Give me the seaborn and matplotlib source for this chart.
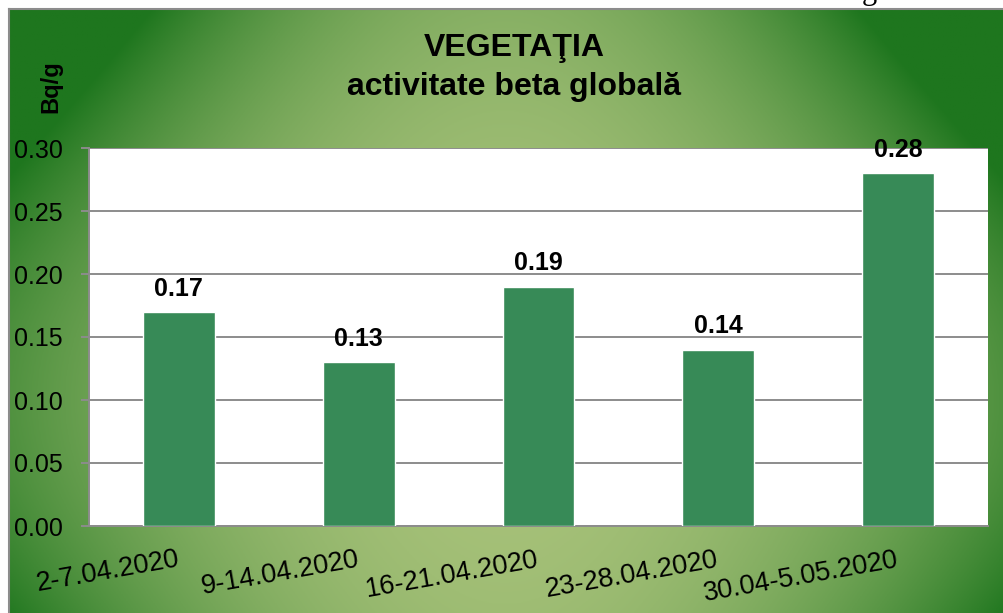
import numpy as np
import pandas as pd
import matplotlib
matplotlib.use("Agg")
import matplotlib.pyplot as plt
import seaborn as sns

# Chart data
perioade = ["2-7.04.2020", "9-14.04.2020", "16-21.04.2020", "23-28.04.2020", "30.04-5.05.2020"]
activitate = [0.17, 0.13, 0.19, 0.14, 0.28]
y_ticks = [0.00, 0.05, 0.10, 0.15, 0.20, 0.25, 0.30]

df = pd.DataFrame({"perioada": perioade, "activitate": activitate})

sns.set_theme(style="white")
plt.rcParams["font.family"] = ["Liberation Sans", "DejaVu Sans"]
plt.rcParams["text.color"] = "black"
plt.rcParams["xtick.labelcolor"] = "black"
plt.rcParams["ytick.labelcolor"] = "black"

W, H = 1004, 613
fig = plt.figure(figsize=(W / 100, H / 100), dpi=100, facecolor="white")

# green radial background with a thin grey frame
bg = fig.add_axes([9 / W, 0, 1 - 9 / W, (H - 9) / H], zorder=-1)
px, py = np.meshgrid(np.linspace(9, W, 400), np.linspace(9, H, 250))
dx = (px - 505) / 495
dy = (py - 400) / 300
t = np.clip(0.63 * dx ** 2 + 0.14 * dy ** 2 + 0.5 * dx ** 2 * dy ** 2, 0, 1)
light = np.array([168, 194, 122]) / 255
dark = np.array([30, 118, 30]) / 255
img = light[None, None, :] * (1 - t[..., None]) + dark[None, None, :] * t[..., None]
bg.imshow(img, aspect="auto", extent=[0, 1, 0, 1], origin="upper")
bg.set_xticks([])
bg.set_yticks([])
for side in ["top", "left"]:
    bg.spines[side].set_color("#8c8c8c")
    bg.spines[side].set_linewidth(1.5)
for side in ["right", "bottom"]:
    bg.spines[side].set_visible(False)

# main plot area
ax = fig.add_axes([89 / W, (H - 526) / H, 899 / W, 378 / H])
ax.set_facecolor("white")
sns.barplot(data=df, x="perioada", y="activitate", color="#378a57", width=0.4,
            saturation=1, ax=ax, zorder=3)
ax.bar_label(ax.containers[0], fmt="%.2f", padding=8, fontsize=18,
             fontweight="bold", color="black")

ax.set_ylim(0, 0.30)
ax.set_xlim(-0.5, len(perioade) - 0.5)
ax.set_yticks(y_ticks)
ax.set_yticklabels([f"{v:.2f}" for v in y_ticks], fontsize=18)
ax.yaxis.grid(True, color="#8c8c8c", linewidth=1.4, zorder=0)
ax.set_axisbelow(True)
ax.tick_params(axis="y", length=6, width=1.4, color="#8c8c8c", pad=13, left=True)
ax.tick_params(axis="x", length=0, pad=24)
ax.set_xticks(range(len(perioade)))
ax.set_xticklabels(perioade, fontsize=19.5, rotation=10, ha="right", va="center",
                   rotation_mode="anchor")
ax.set_xlabel("")
ax.set_ylabel("")
ax.spines["top"].set_visible(False)
ax.spines["right"].set_visible(False)
for side in ["left", "bottom"]:
    ax.spines[side].set_color("#8c8c8c")
    ax.spines[side].set_linewidth(1.4)

# titles and unit
fig.text(514 / W, 1 - 48 / H, "VEGETAŢIA", ha="center", va="center",
         fontsize=23, fontweight="bold", color="black")
fig.text(514 / W, 1 - 87 / H, "activitate beta globală", ha="center", va="center",
         fontsize=23, fontweight="bold", color="black")
fig.text(51 / W, 1 - 87 / H, "Bq/g", rotation=90, ha="center", va="center",
         fontsize=17, fontweight="bold", color="black")
# leftover of the page text above the chart (cut off in the original too)
fig.text(869 / W, 1 + 1 / H, "g", ha="center", va="baseline", fontsize=22,
         family="Liberation Serif", color="black")

fig.savefig("out.png", dpi=100, facecolor="white")
